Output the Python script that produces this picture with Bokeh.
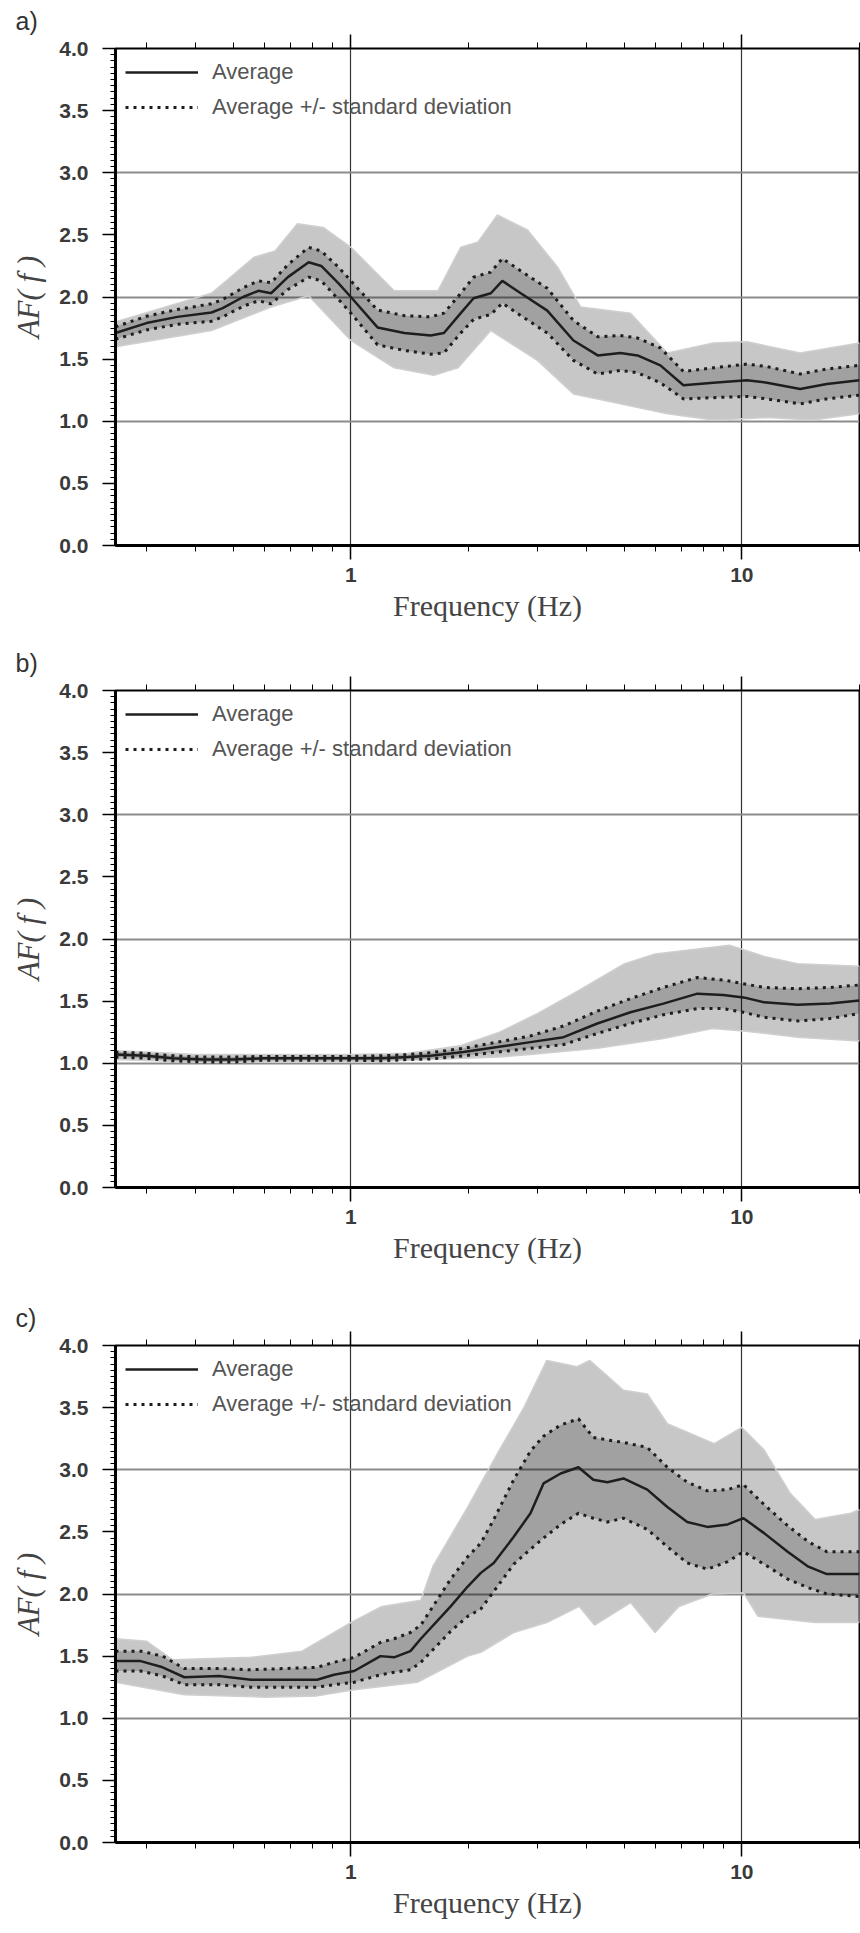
from bokeh.plotting import figure
from bokeh.layouts import column
from bokeh.models import (FixedTicker, SingleIntervalTicker, PrintfTickFormatter, LogAxis,
                          Range1d, Legend, LegendItem)
from bokeh.embed import file_html
from bokeh.resources import INLINE

# ---------------- data ----------------
PANEL_LABELS = ["a)", "b)", "c)"]
X_LABEL = "Frequency (Hz)"
Y_LABEL = "AF( f )"
LEGEND_LABELS = ["Average", "Average +/- standard deviation"]
X_MAJOR = [1, 10]
X_MINOR = [0.3, 0.4, 0.5, 0.6, 0.7, 0.8, 0.9, 2, 3, 4, 5, 6, 7, 8, 9, 20]
Y_GRID = [1, 2, 3]

# panel a
freq_a = [0.25, 0.30, 0.36, 0.44, 0.47, 0.53, 0.58, 0.625, 0.69, 0.78, 0.84, 0.93, 1.0, 1.17, 1.37,
          1.6, 1.73, 1.91, 2.06, 2.28, 2.44, 2.72, 3.18, 3.71, 4.28, 4.89, 5.41, 6.19, 7.09, 8.46,
          10.3, 11.6, 14.1, 16.5, 20]
avg_a = [1.71, 1.79, 1.84, 1.875, 1.91, 2.0, 2.05, 2.03, 2.16, 2.28, 2.25, 2.11, 2.0, 1.755, 1.71,
         1.69, 1.71, 1.87, 1.99, 2.03, 2.13, 2.03, 1.89, 1.65, 1.53, 1.55, 1.53, 1.45, 1.29, 1.31,
         1.33, 1.31, 1.26, 1.30, 1.33]
upper_a = [1.76, 1.845, 1.90, 1.945, 1.98, 2.075, 2.13, 2.115, 2.26, 2.40, 2.37, 2.24, 2.13, 1.895, 1.85,
           1.84, 1.87, 2.03, 2.16, 2.20, 2.31, 2.21, 2.07, 1.81, 1.68, 1.69, 1.67, 1.59, 1.40, 1.43,
           1.46, 1.44, 1.38, 1.42, 1.45]
lower_a = [1.66, 1.735, 1.78, 1.805, 1.84, 1.925, 1.97, 1.945, 2.06, 2.16, 2.13, 1.98, 1.87, 1.615, 1.57,
           1.54, 1.55, 1.71, 1.82, 1.86, 1.95, 1.85, 1.71, 1.49, 1.38, 1.41, 1.39, 1.31, 1.18, 1.19,
           1.20, 1.18, 1.14, 1.18, 1.21]
env_hi_f_a = [0.25, 0.44, 0.565, 0.64, 0.73, 0.85, 1.0, 1.29, 1.67, 1.91, 2.11, 2.37, 2.83, 3.38, 3.87,
              5.19, 6.45, 8.46, 10.3, 14.1, 20]
env_hi_a = [1.80, 2.03, 2.32, 2.37, 2.59, 2.56, 2.40, 2.05, 2.05, 2.40, 2.44, 2.66, 2.54, 2.24, 1.92,
            1.87, 1.55, 1.63, 1.64, 1.55, 1.63]
env_lo_f_a = [0.25, 0.44, 0.625, 0.78, 1.0, 1.29, 1.63, 1.88, 2.28, 3.0, 3.71, 4.89, 6.45, 8.46, 11.6,
              15.2, 20]
env_lo_a = [1.60, 1.73, 1.92, 2.01, 1.65, 1.43, 1.37, 1.43, 1.73, 1.49, 1.22, 1.14, 1.06, 1.01, 1.03,
            1.01, 1.06]

# panel b
freq_b = [0.25, 0.30, 0.35, 0.42, 0.5, 0.6, 0.7, 0.85, 1.0, 1.2, 1.4, 1.6, 1.94, 2.37, 2.88, 3.5,
          4.27, 5.19, 6.3, 7.7, 8.96, 10.1, 11.4, 13.9, 16.8, 20]
avg_b = [1.07, 1.06, 1.04, 1.03, 1.03, 1.04, 1.04, 1.04, 1.04, 1.04, 1.05, 1.06, 1.09, 1.13, 1.17, 1.21,
         1.32, 1.41, 1.48, 1.56, 1.55, 1.53, 1.49, 1.47, 1.48, 1.505]
upper_b = [1.09, 1.08, 1.06, 1.05, 1.05, 1.055, 1.055, 1.055, 1.055, 1.06, 1.07, 1.085, 1.12, 1.17, 1.22,
           1.30, 1.42, 1.52, 1.61, 1.69, 1.67, 1.64, 1.61, 1.60, 1.61, 1.63]
lower_b = [1.05, 1.04, 1.02, 1.01, 1.01, 1.025, 1.025, 1.025, 1.025, 1.02, 1.03, 1.035, 1.06, 1.09, 1.12,
           1.15, 1.24, 1.32, 1.39, 1.44, 1.44, 1.41, 1.37, 1.34, 1.36, 1.40]
env_hi_f_b = [0.25, 0.3, 0.4, 1.0, 1.4, 1.9, 2.4, 3.0, 3.8, 5.0, 6.0, 7.7, 9.3, 11.4, 13.9, 20]
env_hi_b = [1.10, 1.09, 1.07, 1.07, 1.08, 1.14, 1.25, 1.40, 1.58, 1.80, 1.88, 1.92, 1.95, 1.86, 1.80, 1.78]
env_lo_f_b = [0.25, 0.4, 1.0, 1.6, 2.4, 2.88, 4.27, 6.3, 8.4, 10.1, 13.9, 20]
env_lo_b = [1.03, 1.01, 1.01, 1.03, 1.05, 1.07, 1.12, 1.20, 1.28, 1.26, 1.21, 1.18]

# panel c
freq_c = [0.25, 0.29, 0.33, 0.375, 0.46, 0.555, 0.82, 0.905, 1.02, 1.19, 1.29, 1.42, 1.51, 1.80, 1.99,
          2.15, 2.32, 2.61, 2.88, 3.11, 3.44, 3.82, 4.17, 4.53, 4.98, 5.73, 6.45, 7.25, 8.16, 9.2,
          10.1, 11.4, 13.1, 14.8, 16.5, 20]
avg_c = [1.46, 1.46, 1.41, 1.33, 1.34, 1.31, 1.31, 1.35, 1.38, 1.50, 1.49, 1.54, 1.64, 1.90, 2.06,
         2.17, 2.25, 2.46, 2.65, 2.89, 2.97, 3.02, 2.92, 2.90, 2.93, 2.84, 2.70, 2.58, 2.54, 2.56,
         2.61, 2.49, 2.34, 2.22, 2.16, 2.16]
upper_c = [1.54, 1.54, 1.50, 1.40, 1.40, 1.39, 1.41, 1.45, 1.49, 1.61, 1.64, 1.69, 1.75, 2.12, 2.30,
           2.41, 2.60, 2.92, 3.15, 3.27, 3.36, 3.41, 3.26, 3.24, 3.22, 3.18, 3.02, 2.90, 2.83, 2.84,
           2.88, 2.72, 2.55, 2.42, 2.34, 2.34]
lower_c = [1.38, 1.38, 1.34, 1.27, 1.27, 1.25, 1.25, 1.27, 1.29, 1.35, 1.37, 1.39, 1.45, 1.70, 1.82,
           1.88, 2.02, 2.24, 2.36, 2.45, 2.56, 2.65, 2.61, 2.58, 2.61, 2.52, 2.38, 2.25, 2.20, 2.26,
           2.34, 2.24, 2.12, 2.05, 2.00, 1.98]
env_hi_f_c = [0.25, 0.30, 0.35, 0.555, 0.75, 1.0, 1.2, 1.51, 1.62, 1.99, 2.15, 2.4, 2.77, 3.17, 3.79,
              4.08, 4.98, 5.73, 6.45, 8.5, 10.0, 11.4, 13.3, 15.4, 19.0, 20]
env_hi_c = [1.64, 1.62, 1.47, 1.49, 1.54, 1.77, 1.90, 1.95, 2.22, 2.70, 2.89, 3.16, 3.50, 3.88, 3.83,
            3.88, 3.64, 3.61, 3.37, 3.21, 3.34, 3.16, 2.81, 2.60, 2.65, 2.68]
env_lo_f_c = [0.25, 0.375, 0.6, 0.82, 1.02, 1.48, 1.99, 2.15, 2.61, 3.17, 3.84, 4.2, 5.2, 6.0, 6.9,
              8.4, 10.1, 11.0, 15.4, 20]
env_lo_c = [1.29, 1.19, 1.17, 1.18, 1.23, 1.29, 1.50, 1.53, 1.69, 1.77, 1.90, 1.75, 1.93, 1.69, 1.90,
            2.00, 2.01, 1.82, 1.77, 1.77]

PANELS = [
    (freq_a, avg_a, upper_a, lower_a, env_hi_f_a, env_hi_a, env_lo_f_a, env_lo_a),
    (freq_b, avg_b, upper_b, lower_b, env_hi_f_b, env_hi_b, env_lo_f_b, env_lo_b),
    (freq_c, avg_c, upper_c, lower_c, env_hi_f_c, env_hi_c, env_lo_f_c, env_lo_c),
]
BOTTOM_BORDERS = [97, 110, 91]

SANS = "Liberation Sans"
SERIF = "Liberation Serif"


def make_panel(label, data, bottom):
    freq, avg, upper, lower, ehf, eh, elf, el = data
    p = figure(x_axis_type="log", x_range=Range1d(0.25, 20), y_range=Range1d(0, 4),
               frame_width=744, frame_height=497,
               min_border_left=115, min_border_right=1, min_border_top=48, min_border_bottom=bottom,
               output_backend="svg", toolbar_location=None,
               x_axis_label=X_LABEL, y_axis_label=Y_LABEL)
    p.outline_line_color = "black"
    p.outline_line_width = 2
    p.outline_line_alpha = 1

    # panel label
    p.title.text = label
    p.title.align = "left"
    p.title.offset = -100
    p.title.standoff = 0
    p.title.text_font = SANS
    p.title.text_font_size = "25px"
    p.title.text_font_style = "normal"
    p.title.text_color = "#333333"

    # envelope of all individual curves + dense band
    p.patch(ehf + elf[::-1], eh + el[::-1], fill_color="black", fill_alpha=0.22,
            line_color="#cfcfcf", line_width=1.5)
    p.varea(x=freq, y1=lower, y2=upper, fill_color="black", fill_alpha=0.19)

    up = p.line(freq, upper, line_color="#1e1e1e", line_width=3, line_dash="3 5")
    p.line(freq, lower, line_color="#1e1e1e", line_width=3, line_dash="3 5")
    av = p.line(freq, avg, line_color="#1e1e1e", line_width=2.5)

    legend = Legend(items=[LegendItem(label=LEGEND_LABELS[0], renderers=[av]),
                           LegendItem(label=LEGEND_LABELS[1], renderers=[up])],
                    location="top_left", margin=10, padding=10, spacing=7,
                    glyph_width=73, glyph_height=28, label_height=28, label_standoff=14,
                    label_text_font=SANS, label_text_font_size="22px", label_text_color="#555555",
                    background_fill_alpha=0, border_line_color=None)
    p.add_layout(legend)

    # y axis
    ya = p.yaxis[0]
    ya.ticker = SingleIntervalTicker(interval=0.5, num_minor_ticks=10)
    ya.formatter = PrintfTickFormatter(format="%.1f")
    ya.axis_line_width = 3
    ya.major_tick_out = 13
    ya.major_tick_in = 0
    ya.minor_tick_out = 5
    ya.minor_tick_in = 0
    ya.major_tick_line_width = 1.5
    ya.major_label_standoff = 14
    ya.major_label_text_font = SANS
    ya.major_label_text_font_size = "21px"
    ya.major_label_text_font_style = "bold"
    ya.major_label_text_color = "#3a3a3a"
    ya.axis_label_text_font = SERIF
    ya.axis_label_text_font_style = "italic"
    ya.axis_label_text_font_size = "31px"
    ya.axis_label_text_color = "#444444"
    ya.axis_label_standoff = 10

    # x axis
    xa = p.xaxis[0]
    xa.ticker = FixedTicker(ticks=X_MAJOR, minor_ticks=X_MINOR)
    xa.formatter = PrintfTickFormatter(format="%d")
    xa.axis_line_width = 3
    xa.major_tick_out = 14
    xa.major_tick_in = 0
    xa.minor_tick_out = 6
    xa.minor_tick_in = 0
    xa.major_tick_line_width = 1.5
    xa.major_label_standoff = 8
    xa.major_label_text_font = SANS
    xa.major_label_text_font_size = "21px"
    xa.major_label_text_font_style = "bold"
    xa.major_label_text_color = "#3a3a3a"
    xa.axis_label_text_font = SERIF
    xa.axis_label_text_font_style = "normal"
    xa.axis_label_text_font_size = "30px"
    xa.axis_label_text_color = "#444444"
    xa.axis_label_standoff = 4

    # top axis with ticks only
    top = LogAxis(ticker=FixedTicker(ticks=X_MAJOR, minor_ticks=X_MINOR),
                  major_label_text_alpha=0, major_label_text_font_size="8px",
                  axis_line_color=None,
                  major_tick_out=14, major_tick_in=0, minor_tick_out=6, minor_tick_in=0,
                  major_tick_line_width=1.5, major_label_standoff=0)
    p.add_layout(top, "above")

    # grids
    p.ygrid.ticker = FixedTicker(ticks=Y_GRID)
    p.ygrid.grid_line_color = "#8c8c8c"
    p.ygrid.grid_line_width = 2
    p.xgrid.ticker = FixedTicker(ticks=X_MAJOR)
    p.xgrid.grid_line_color = "#333333"
    p.xgrid.grid_line_width = 1.2
    return p


figs = [make_panel(lbl, d, b) for lbl, d, b in zip(PANEL_LABELS, PANELS, BOTTOM_BORDERS)]
layout = column(*figs, spacing=0)
open("out.html", "w").write(file_html(layout, INLINE))
